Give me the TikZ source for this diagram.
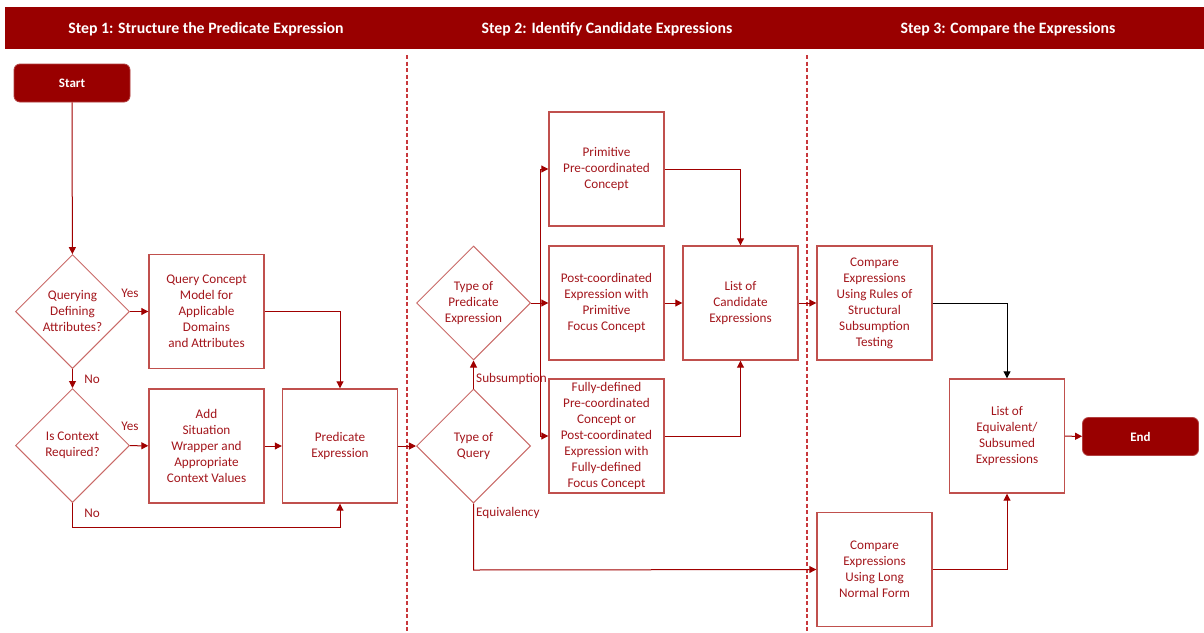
\documentclass[tikz,border=0pt]{standalone}
\usepackage{fontspec}
\setmainfont{Carlito}
\usetikzlibrary{shapes.geometric,arrows.meta}
\definecolor{hdr}{HTML}{990000}
\definecolor{boxline}{HTML}{C0504D}
\definecolor{wire}{HTML}{A00000}
\definecolor{txt}{HTML}{A3161C}
\definecolor{sepline}{HTML}{C8383C}
\tikzset{
  proc/.style={draw=boxline, line width=1.4pt, minimum width=115pt, minimum height=114pt,
    align=center, text=txt, font=\fontsize{13.2}{16}\selectfont, inner sep=1pt},
  dec/.style={diamond, draw=boxline!85, line width=1pt, minimum width=114pt, minimum height=114pt,
    aspect=1, align=center, text=txt, font=\fontsize{13.2}{16}\selectfont, inner sep=0pt},
  term/.style={rounded corners=6pt, fill=hdr, draw=hdr!75, line width=0.8pt,
    minimum width=116pt, minimum height=38pt, text=white, font=\fontsize{13}{15}\selectfont\bfseries},
  flow/.style={draw=wire, line width=1pt, -{Triangle[length=7pt,width=7pt]}},
  wirelbl/.style={text=txt, font=\fontsize{13.2}{15}\selectfont, inner sep=0pt},
  steptitle/.style={text=white, font=\fontsize{15.8}{18}\selectfont\bfseries},
  lanesep/.style={draw=sepline, line width=1.3pt, dash pattern=on 4pt off 2.5pt}
}
\begin{document}
\begin{tikzpicture}[x=1pt,y=-1pt]
\useasboundingbox (0,0) rectangle (1204,632);

% header band with the three step titles
\fill[hdr] (5,7) rectangle (1204,49);
\node[steptitle] (h1) at (206,29.5) {Step 1: Structure the Predicate Expression};
\node[steptitle] (h2) at (607,29.5) {Step 2: Identify Candidate Expressions};
\node[steptitle] (h3) at (1008,29.5) {Step 3: Compare the Expressions};

% lane separators
\draw[lanesep] (407,55) -- (407,632);
\draw[lanesep] (807,55) -- (807,632);

% step 1
\node[term] (start) at (72,83) {Start};
\node[dec] (q1) at (72.5,311.5) {Querying\\Defining\\Attributes?};
\node[dec] (q2) at (72.5,445.5) {Is Context\\Required?};
\node[proc] (qcm) at (206.5,311.5) {Query Concept\\Model for\\Applicable\\Domains\\and Attributes};
\node[proc] (add) at (206.5,446) {Add\\Situation\\Wrapper and\\Appropriate\\Context Values};
\node[proc] (pred) at (340,446) {Predicate\\Expression};

% step 2
\node[dec] (tq) at (473.5,446) {Type of\\Query};
\node[dec] (tp) at (473.5,303) {Type of\\Predicate\\Expression};
\node[proc] (prim) at (606.5,169) {Primitive\\Pre-coordinated\\Concept};
\node[proc] (post) at (606.5,303) {Post-coordinated\\Expression with\\Primitive\\Focus Concept};
\node[proc, inner sep=0pt] (full) at (606.5,436) {Fully-defined\\Pre-coordinated\\Concept or\\Post-coordinated\\Expression with\\Fully-defined\\Focus Concept};
\node[proc] (cand) at (740.5,303) {List of\\Candidate\\Expressions};

% step 3
\node[proc] (rules) at (874.5,303) {Compare\\Expressions\\Using Rules of\\Structural\\Subsumption\\Testing};
\node[proc] (lnf) at (874.5,569.5) {Compare\\Expressions\\Using Long\\Normal Form};
\node[proc] (equiv) at (1007,436) {List of\\Equivalent/\\Subsumed\\Expressions};
\node[term] (end) at (1140.5,436.5) {End};

% bend points
\coordinate (nobend) at (72.5,527);
\coordinate (split) at (540,303);
\coordinate (eqbend) at (473.5,570);

% connectors, step 1
\draw[flow] (start) -- (q1);
\draw[flow] (q1) -- (qcm);
\draw[flow] (q1) -- (q2);
\draw[flow] (q2) -- (add);
\draw[flow] (add) -- (pred);
\draw[flow] (qcm.east) -| (pred.north);
\draw[flow] (q2.south) -- (nobend) -| (pred.south);
\node[wirelbl] (yes1) at (130,293) {Yes};
\node[wirelbl] (no1) at (92,379) {No};
\node[wirelbl] (yes2) at (130,426) {Yes};
\node[wirelbl] (no2) at (92,513) {No};

% connectors, step 2
\draw[flow] (pred) -- (tq);
\draw[flow] (tq) -- (tp);
\draw[flow] (tp) -- (post);
\draw[flow] (split) |- (prim.west);
\draw[flow] (split) |- (full.west);
\draw[flow] (prim.east) -| (cand.north);
\draw[flow] (post) -- (cand);
\draw[flow] (full.east) -| (cand.south);
\draw[flow] (tq.south) -- (eqbend) -- (lnf.west);
\node[wirelbl, anchor=west] (subs) at (476,379) {Subsumption};
\node[wirelbl, anchor=west] (equivlbl) at (476,513) {Equivalency};

% connectors, step 3
\draw[flow] (cand) -- (rules);
\draw[flow, draw=black] (rules.east) -| (equiv.north);
\draw[flow] (lnf.east) -| (equiv.south);
\draw[flow] (equiv) -- (end);
\end{tikzpicture}
\end{document}
